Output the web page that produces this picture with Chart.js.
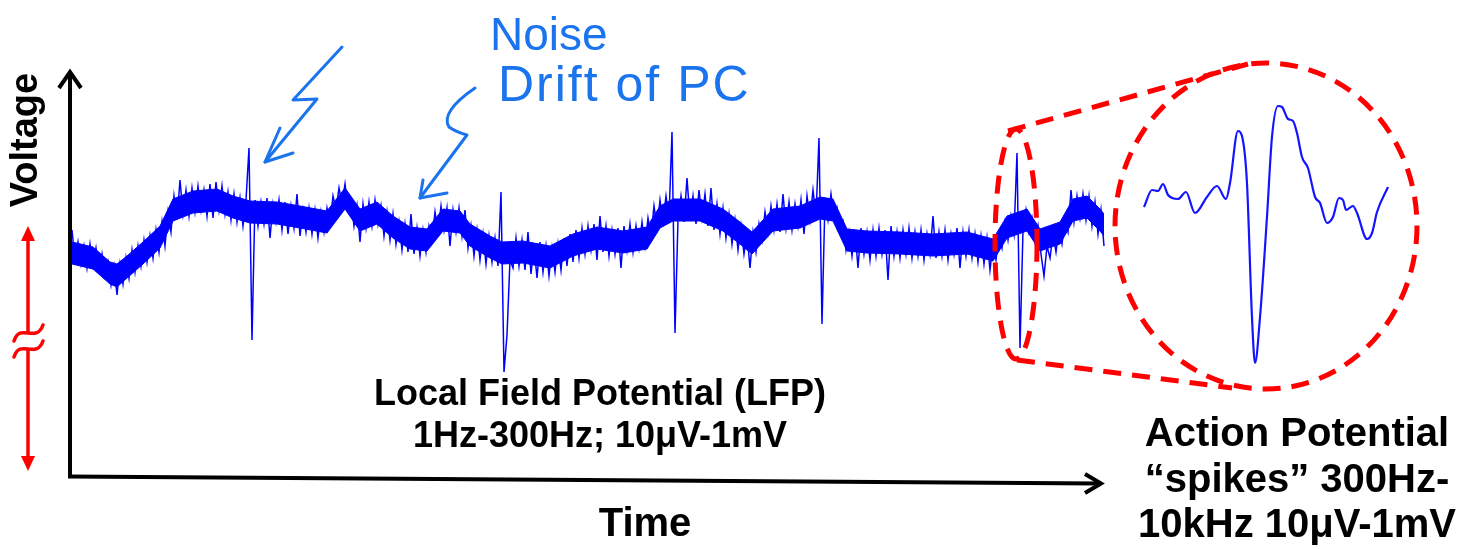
<!DOCTYPE html>
<html><head><meta charset="utf-8">
<script src="https://cdn.jsdelivr.net/npm/chart.js@4.4.1/dist/chart.umd.min.js"></script>
<style>html,body{margin:0;padding:0;background:#fff;overflow:hidden}canvas{display:block}</style>
</head><body>
<canvas id="c" width="1471" height="549"></canvas>
<script>
// ---- data ----
const sampleStepMs = 3;
const lfpTrace = [
 10,-20,-2,-24,-6,-28,-4,-26,-8,-30,
 -14,-36,-22,-45,-26,-55,-24,-44,-18,-38,
 -10,-32,-6,-26,0,-22,4,-18,10,-12,
 18,-6,28,8,44,20,60,26,50,24,
 52,28,54,30,50,24,56,22,58,30,
 54,26,48,20,46,18,42,14,40,92,
 -100,40,14,38,16,42,2,36,18,40,
 10,38,6,34,12,46,4,30,8,32,
 6,30,2,28,8,32,16,44,30,52,
 36,56,30,40,14,34,-2,36,12,38,
 14,40,16,34,4,28,0,26,-4,18,
 -10,16,-12,26,-14,12,-16,10,-12,14,
 0,28,8,34,10,32,-6,30,8,32,
 4,30,-8,14,-16,10,-20,6,-24,4,
 -22,2,-26,48,-132,-95,-20,-28,2,-26,
 0,-30,8,-34,-6,-38,-2,-32,-6,-36,
 -8,-32,-4,-30,2,-26,6,-22,10,-18,
 12,-14,14,-10,16,-20,24,-12,14,-16,
 10,-14,12,-28,14,-10,16,-12,14,-8,
 18,-6,22,4,34,12,40,18,44,22,
 108,-93,20,44,18,62,20,44,16,50,
 22,46,14,52,10,36,6,32,2,26,
 -4,20,-10,14,-14,6,-28,8,-12,16,
 0,28,8,34,10,36,8,46,12,38,
 10,36,14,40,6,44,20,50,24,102,
 -84,40,20,46,22,32,8,18,-10,8,
 -16,10,-28,12,-14,8,-20,10,-16,12,
 -14,10,-40,14,-16,8,-18,10,-14,12,
 -18,8,-16,10,-20,6,-14,24,-18,8,
 -16,10,-20,6,-14,12,-28,8,-16,10,
 -18,6,-22,4,-24,2,-30,-4,-20,6,
 -8,18,0,24,6,87,-108,10,30,8,
 22,-2,14,-14,-36,-6,-18,6,-12,12,
 -4,20,8,50,18,44,22,46,20,44,
 14,38,6,30,-6
];
// dense noise core of the LFP (upper / lower edge)
const envelopeTimesMs = [0,21,38,45,55,71,88,101,121,145,161,178,205,228,255,273,288,305,321,338,355,371,388,398,418,430,451,478,501,525,551,575,588,601,628,651,668,680,701,728,748,761,775,795,828,861,895,921,935,955,968,988,1001,1015,1028,1032];
const envelopeUpper = [-2,-7,-22,-24,-16,-2,14,41,49,51,44,39,38,34,29,52,31,38,24,13,11,31,29,16,4,-2,-1,-6,6,13,9,13,34,41,41,31,18,8,31,34,43,41,11,9,8,6,8,1,24,31,11,18,41,44,31,26];
const envelopeLower = [-24,-29,-44,-47,-38,-24,-8,19,27,29,22,17,16,12,7,31,9,16,2,-9,-11,9,7,-6,-18,-24,-23,-28,-16,-9,-13,-9,12,19,19,9,-4,-14,9,12,21,19,-11,-13,-14,-16,-14,-21,2,9,-11,-4,19,22,9,4];

const spikeTimesMs = [0,0.066,0.115,0.156,0.197,0.279,0.344,0.418,0.516,0.598,0.672,0.705,0.770,0.803,0.844,0.885,0.910,0.951,1.008,1.049,1.098,1.131,1.180,1.221,1.254,1.295,1.344,1.402,1.443,1.500,1.549,1.598,1.631,1.656,1.713,1.746,1.828,1.869,1.910,2.000];
const spikeWave = [0,17,16,23,12,8,15,-6,10,21,8,24,76,71,24,-110,-156,-110,-10,70,101,100,88,86,74,50,39,10,4,-16,-10,9,7,-3,1,-6,-32,-26,-5,20];

const yAxisLabel = "Voltage";
const xAxisLabel = "Time";
const lfpLabel = ["Local Field Potential (LFP)", "1Hz-300Hz; 10\u03bcV-1mV"];
const apLabel = ["Action Potential", "\u201cspikes\u201d 300Hz-", "10kHz 10\u03bcV-1mV"];
const noteLabel = ["Noise", "Drift of PC"];

// ---- build ----
const lfpPoints = lfpTrace.map((v, i) => ({x: i * sampleStepMs, y: v}));
const upperPoints = envelopeTimesMs.map((t, i) => ({x: t, y: envelopeUpper[i]}));
const lowerPoints = envelopeTimesMs.map((t, i) => ({x: t, y: envelopeLower[i]}));
const wavePoints = spikeTimesMs.map((t, i) => ({x: t, y: spikeWave[i]}));

const FONT = '"Liberation Sans", Arial, sans-serif';
const RED = '#ff0000';
const HAND = '#1a74ee';
const TRACE = '#0000ff';

const decor = {
  id: 'decor',
  afterDatasetsDraw(chart) {
    const ctx = chart.ctx;
    ctx.save();
    // axes
    ctx.strokeStyle = '#000'; ctx.lineWidth = 4; ctx.lineCap = 'butt'; ctx.lineJoin = 'miter';
    ctx.beginPath(); ctx.moveTo(70, 478); ctx.lineTo(70, 73); ctx.stroke();
    ctx.beginPath(); ctx.moveTo(59, 88); ctx.lineTo(70, 72); ctx.lineTo(81, 88); ctx.stroke();
    ctx.beginPath(); ctx.moveTo(68, 476.5); ctx.lineTo(1099, 483.5); ctx.stroke();
    ctx.beginPath(); ctx.moveTo(1085, 474); ctx.lineTo(1101, 483.5); ctx.lineTo(1085, 493); ctx.stroke();

    // red double arrow with break
    ctx.strokeStyle = RED; ctx.fillStyle = RED; ctx.lineWidth = 3.5;
    ctx.beginPath(); ctx.moveTo(28, 238); ctx.lineTo(28, 333); ctx.stroke();
    ctx.beginPath(); ctx.moveTo(28, 349); ctx.lineTo(28, 460); ctx.stroke();
    ctx.beginPath(); ctx.moveTo(28, 226); ctx.lineTo(21, 241); ctx.lineTo(35, 241); ctx.closePath(); ctx.fill();
    ctx.beginPath(); ctx.moveTo(28, 471); ctx.lineTo(21, 456); ctx.lineTo(35, 456); ctx.closePath(); ctx.fill();
    ctx.lineWidth = 3.5; ctx.lineCap = 'round';
    ctx.beginPath(); ctx.moveTo(14, 341); ctx.bezierCurveTo(20, 322, 36, 344, 43, 325); ctx.stroke();
    ctx.beginPath(); ctx.moveTo(14, 357); ctx.bezierCurveTo(20, 338, 36, 360, 43, 341); ctx.stroke();

    // red dashed zoom shapes
    ctx.lineCap = 'butt'; ctx.lineWidth = 5; ctx.setLineDash([18, 11]);
    ctx.beginPath(); ctx.ellipse(1016, 244, 21, 115, 0, 0, Math.PI * 2); ctx.stroke();
    ctx.beginPath(); ctx.moveTo(1008, 131); ctx.lineTo(1248, 64); ctx.stroke();
    ctx.beginPath(); ctx.moveTo(1017, 360); ctx.lineTo(1232, 388); ctx.stroke();
    ctx.beginPath(); ctx.ellipse(1266, 226, 151, 163, 0, 0, Math.PI * 2); ctx.stroke();
    ctx.setLineDash([]);

    // handwritten arrows
    ctx.strokeStyle = HAND; ctx.lineWidth = 3; ctx.lineCap = 'round'; ctx.lineJoin = 'round';
    ctx.beginPath(); ctx.moveTo(342, 47); ctx.lineTo(293, 100); ctx.lineTo(317, 99); ctx.lineTo(265, 162); ctx.stroke();
    ctx.beginPath(); ctx.moveTo(280, 128); ctx.lineTo(265, 162); ctx.lineTo(293, 153); ctx.stroke();
    ctx.beginPath(); ctx.moveTo(475, 88); ctx.quadraticCurveTo(440, 112, 449, 127); ctx.quadraticCurveTo(456, 132, 467, 135); ctx.lineTo(420, 198); ctx.stroke();
    ctx.beginPath(); ctx.moveTo(423, 180); ctx.lineTo(420, 198); ctx.lineTo(447, 193); ctx.stroke();

    // texts
    ctx.fillStyle = HAND; ctx.textAlign = 'left'; ctx.textBaseline = 'alphabetic';
    ctx.font = `46px ${FONT}`; ctx.fillText(noteLabel[0], 490, 50);
    ctx.font = `50px ${FONT}`;
    try { ctx.letterSpacing = '2px'; } catch (e) {}
    ctx.fillText(noteLabel[1], 498, 101);
    try { ctx.letterSpacing = '0px'; } catch (e) {}

    ctx.fillStyle = '#000'; ctx.textAlign = 'center';
    ctx.font = `bold 36px ${FONT}`;
    ctx.fillText(lfpLabel[0], 600, 405);
    ctx.fillText(lfpLabel[1], 600, 447);
    ctx.font = `bold 40px ${FONT}`;
    ctx.fillText(xAxisLabel, 645, 536);
    ctx.fillText(apLabel[0], 1297, 446);
    ctx.fillText(apLabel[1], 1297, 492);
    ctx.fillText(apLabel[2], 1297, 537);

    ctx.save();
    ctx.translate(27, 140); ctx.rotate(-Math.PI / 2);
    ctx.font = `bold 38px ${FONT}`; ctx.textBaseline = 'middle';
    ctx.fillText(yAxisLabel, 0, 0);
    ctx.restore();

    ctx.restore();
  }
};

new Chart(document.getElementById('c'), {
  type: 'line',
  data: {
    datasets: [
      {data: lfpPoints, xAxisID: 'x', yAxisID: 'y', borderColor: TRACE, borderWidth: 1.5, pointRadius: 0, tension: 0, fill: false},
      {data: wavePoints, xAxisID: 'xz', yAxisID: 'yz', borderColor: '#1414ff', borderWidth: 2.2, pointRadius: 0, cubicInterpolationMode: 'monotone', fill: false},
      {data: upperPoints, xAxisID: 'x', yAxisID: 'y', borderColor: TRACE, borderWidth: 1, pointRadius: 0, tension: 0, fill: '+1', backgroundColor: TRACE},
      {data: lowerPoints, xAxisID: 'x', yAxisID: 'y', borderColor: TRACE, borderWidth: 1, pointRadius: 0, tension: 0, fill: false}
    ]
  },
  options: {
    responsive: false, animation: false, events: [],
    layout: {padding: 0},
    plugins: {legend: {display: false}, tooltip: {enabled: false}},
    scales: {
      x: {type: 'linear', min: -72, max: 1399, display: false},
      y: {type: 'linear', min: -309, max: 240, display: false},
      xz: {type: 'linear', min: -9.377, max: 2.6803, display: false},
      yz: {type: 'linear', min: -342, max: 207, display: false}
    }
  },
  plugins: [decor]
});
</script>
</body></html>
